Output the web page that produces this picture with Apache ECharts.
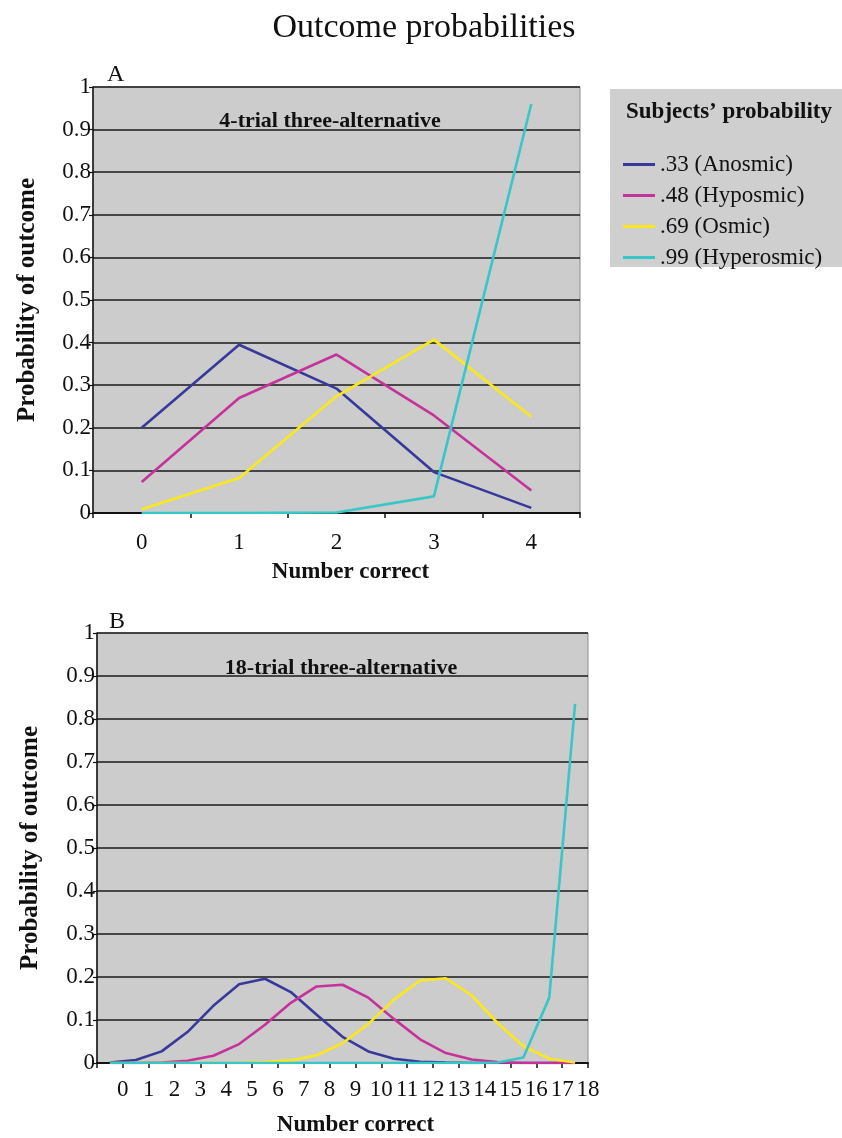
<!DOCTYPE html>
<html>
<head>
<meta charset="utf-8">
<script src="https://cdn.jsdelivr.net/npm/echarts@6/dist/echarts.min.js"></script>
<style>
html,body{margin:0;padding:0;background:#fff;}
#c{width:842px;height:1138px;}
</style>
</head>
<body>
<div id="c"></div>
<script>
// ---------- data ----------
var seriesNames = ['.33 (Anosmic)', '.48 (Hyposmic)', '.69 (Osmic)', '.99 (Hyperosmic)'];
var seriesColors = ['#37399b', '#c5339a', '#fbe81a', '#38c6c6'];

// Panel A: 4-trial
var catsA = ['0', '1', '2', '3', '4'];
var a33 = [0.200, 0.395, 0.292, 0.096, 0.012];
var a48 = [0.073, 0.270, 0.372, 0.229, 0.053];
var a69 = [0.009, 0.082, 0.274, 0.407, 0.226];
var a99 = [0.000, 0.000, 0.001, 0.039, 0.960];

// Panel B: 18-trial
var catsB = ['0','1','2','3','4','5','6','7','8','9','10','11','12','13','14','15','16','17','18'];
var b33 = [0.001, 0.007, 0.027, 0.072, 0.133, 0.183, 0.196, 0.165, 0.112, 0.061, 0.027, 0.010, 0.003, 0.001, 0.000, 0.000, 0.000, 0.000, 0.000];
var b48 = [0.000, 0.000, 0.001, 0.005, 0.017, 0.044, 0.089, 0.140, 0.178, 0.182, 0.152, 0.102, 0.055, 0.023, 0.008, 0.002, 0.000, 0.000, 0.000];
var b69 = [0.000, 0.000, 0.000, 0.000, 0.000, 0.000, 0.002, 0.006, 0.018, 0.046, 0.091, 0.148, 0.192, 0.197, 0.157, 0.093, 0.039, 0.010, 0.001];
var b99 = [0.000, 0.000, 0.000, 0.000, 0.000, 0.000, 0.000, 0.000, 0.000, 0.000, 0.000, 0.000, 0.000, 0.000, 0.000, 0.001, 0.013, 0.152, 0.835];

// tick labels for panel B's labelled axis (ticks at -1..18, label shown from 0)
var tickLabelsB = ['0','1','2','3','4','5','6','7','8','9','10','11','12','13','14','15','16','17','18'];

var FONT = '"Liberation Serif", "Times New Roman", Times, serif';

// ---------- chart ----------
var chart = echarts.init(document.getElementById('c'), null, {renderer: 'canvas'});

function yAxisDef(gridIndex, gap) {
  return {
    type: 'value', gridIndex: gridIndex, min: 0, max: 1, interval: 0.1,
    name: 'Probability of outcome', nameLocation: 'middle', nameRotate: 90, nameGap: gap,
    nameTextStyle: {fontFamily: FONT, fontSize: 25, fontWeight: 'bold', color: '#111'},
    axisLine: {show: true, onZero: false, lineStyle: {color: '#111', width: 1.5}},
    axisTick: {show: true, length: 4, lineStyle: {color: '#111', width: 1.2}},
    axisLabel: {fontFamily: FONT, fontSize: 23, color: '#111', margin: 2},
    splitLine: {show: true, lineStyle: {color: '#1a1a1a', width: 1.6}}
  };
}

var series = [];
var dataA = [a33, a48, a69, a99];
var dataB = [b33, b48, b69, b99];
for (var i = 0; i < 4; i++) {
  series.push({
    name: seriesNames[i], type: 'line', xAxisIndex: 0, yAxisIndex: 0,
    data: dataA[i], showSymbol: false, symbol: 'none', smooth: false,
    lineStyle: {color: seriesColors[i], width: 2.6}, itemStyle: {color: seriesColors[i]},
    z: 3 + i
  });
}
for (var j = 0; j < 4; j++) {
  series.push({
    name: seriesNames[j], type: 'line', xAxisIndex: 1, yAxisIndex: 1,
    data: dataB[j], showSymbol: false, symbol: 'none', smooth: false,
    lineStyle: {color: seriesColors[j], width: 2.6}, itemStyle: {color: seriesColors[j]},
    z: 3 + j
  });
}

var option = {
  backgroundColor: '#ffffff',
  animation: false,
  grid: [
    {left: 93, top: 87, width: 487, height: 426, show: true, backgroundColor: '#cccccc', borderColor: '#8a8a8a', borderWidth: 1},
    {left: 97, top: 633, width: 491, height: 433, show: true, backgroundColor: '#cccccc', borderColor: '#8a8a8a', borderWidth: 1}
  ],
  xAxis: [
    {
      type: 'category', gridIndex: 0, data: catsA, boundaryGap: true,
      name: 'Number correct', nameLocation: 'middle', nameGap: 48,
      nameTextStyle: {fontFamily: FONT, fontSize: 23, fontWeight: 'bold', color: '#111', padding: [0, 0, 0, 28]},
      axisLine: {show: true, onZero: false, lineStyle: {color: '#111', width: 1.8}},
      axisTick: {show: true, length: 5, alignWithLabel: false, lineStyle: {color: '#111', width: 1.5}},
      axisLabel: {fontFamily: FONT, fontSize: 23, color: '#111', margin: 18},
      splitLine: {show: false}
    },
    {
      // category axis carrying panel B's data (hidden)
      type: 'category', gridIndex: 1, data: catsB, boundaryGap: true,
      axisLine: {show: false}, axisTick: {show: false}, axisLabel: {show: false},
      splitLine: {show: false}
    },
    {
      // labelled axis of panel B, ticks at -1..18
      type: 'value', gridIndex: 1, position: 'bottom', min: -1, max: 18, interval: 1,
      name: 'Number correct', nameLocation: 'middle', nameGap: 51,
      nameTextStyle: {fontFamily: FONT, fontSize: 23, fontWeight: 'bold', color: '#111', padding: [0, 0, 0, 26]},
      axisLine: {show: true, onZero: false, lineStyle: {color: '#111', width: 1.8}},
      axisTick: {show: true, length: 5, lineStyle: {color: '#111', width: 1.5}},
      axisLabel: {
        fontFamily: FONT, fontSize: 23, color: '#111', margin: 15,
        formatter: function (v) { var k = Math.round(v); return k >= 0 ? tickLabelsB[k] : ''; }
      },
      splitLine: {show: false}
    }
  ],
  yAxis: [yAxisDef(0, 53), yAxisDef(1, 54)],
  legend: {
    data: seriesNames, orient: 'vertical', left: 618, top: 148,
    icon: 'rect', itemWidth: 32, itemHeight: 3, itemGap: 8,
    textStyle: {fontFamily: FONT, fontSize: 23, color: '#111'},
    selectedMode: false
  },
  graphic: [
    {type: 'rect', left: 610, top: 89, z: -1, shape: {width: 232, height: 178}, style: {fill: '#cfcfcf'}},
    {type: 'text', x: 729, y: 112, z: 10, style: {text: 'Subjects\u2019 probability', font: 'bold 23px ' + FONT, fill: '#111', textAlign: 'center', textVerticalAlign: 'middle'}},
    {type: 'text', x: 424, y: 28, z: 10, style: {text: 'Outcome probabilities', font: '34px ' + FONT, fill: '#111', textAlign: 'center', textVerticalAlign: 'middle'}},
    {type: 'text', x: 107, y: 75, z: 10, style: {text: 'A', font: '24px ' + FONT, fill: '#111', textAlign: 'left', textVerticalAlign: 'middle'}},
    {type: 'text', x: 109, y: 622, z: 10, style: {text: 'B', font: '24px ' + FONT, fill: '#111', textAlign: 'left', textVerticalAlign: 'middle'}},
    {type: 'text', x: 330, y: 121, z: 10, style: {text: '4-trial three-alternative', font: 'bold 22px ' + FONT, fill: '#111', textAlign: 'center', textVerticalAlign: 'middle'}},
    {type: 'text', x: 341, y: 668, z: 10, style: {text: '18-trial three-alternative', font: 'bold 22px ' + FONT, fill: '#111', textAlign: 'center', textVerticalAlign: 'middle'}}
  ],
  series: series
};
chart.setOption(option);
</script>
</body>
</html>
